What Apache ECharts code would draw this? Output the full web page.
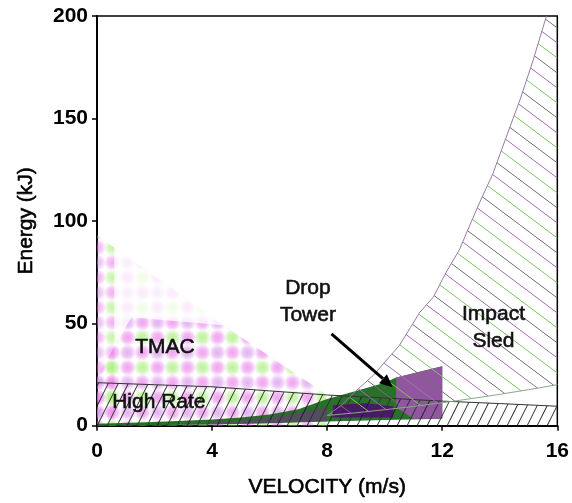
<!DOCTYPE html>
<html>
<head>
<meta charset="utf-8">
<script src="https://cdn.jsdelivr.net/npm/echarts@6/dist/echarts.min.js"></script>
<style>
  html, body { margin: 0; padding: 0; background: #fff; }
  #chart { width: 572px; height: 503px; }
</style>
</head>
<body>
<div id="chart"></div>
<script>
// axis ticks
var xTicks = [0, 4, 8, 12, 16];
var yTicks = [0, 50, 100, 150, 200];

// regions, [velocity m/s, energy kJ]
var tmacFaint = [[0, 0], [0, 93], [4.4, 49], [7.9, 16], [8, 12], [8, 0]];
var tmacEdge = [[0, 0], [0, 93], [0.6, 87], [0.6, 0]];
var tmacDense = [[0, 0], [0, 24], [1.2, 53], [4.4, 49], [7.9, 16], [8, 12], [8, 0]];
var highRate = [[0, 0], [0, 21], [2, 20], [4, 19], [6, 17], [8, 15], [10, 13.5], [12, 12], [14, 10.8], [16, 9.5], [16, 0]];
var dropTower = [[0, 1], [2, 1.8], [4, 3], [5, 4], [6, 5.5], [7, 8], [8, 13], [9, 17], [10, 21], [10.4, 23.5], [12, 29],
                 [12, 3.4], [10, 2.8], [8, 2], [6, 1.2], [4, 0.6], [0, 0]];
var dropWedge = [[3, 0.6], [5, 2.5], [6.5, 5], [8, 9], [8, 2.2], [5, 1]];
var dropSquare = [[10.4, 9], [10.4, 23.5], [12, 29], [12, 3.4], [11, 3.4]];
var dropCore = [[8.2, 4], [10.3, 4], [10.3, 9.5], [9.3, 11], [8.2, 10]];
var sledUpper = [[8, 5], [8.5, 10], [9, 17], [9.6, 24.5], [10, 31], [10.5, 39], [10.9, 48], [11.2, 55], [11.7, 63],
                 [12.1, 74], [12.6, 86], [12.84, 94], [13.3, 109], [13.76, 123], [14.2, 140], [14.7, 159],
                 [15.15, 178], [15.6, 199], [15.62, 200]];
var sledLower = [[16, 200], [16, 20], [15, 17.6], [14, 15.3], [13, 13.2], [12, 11.2], [11, 9.4], [10, 7.8], [9, 6.3], [8, 5]];

// labels and arrow
var labels = [[2.36, 38.4, 'TMAC'], [2.15, 11.4, 'High Rate'], [7.33, 60.3, 'Drop\nTower'], [13.78, 47.7, 'Impact\nSled']];
var arrow = [[8.15, 44.8], [10.28, 18.8]];

var FONT = '"Liberation Sans", Arial, Helvetica, sans-serif';

// fill patterns
function tmacPattern(alpha) {
	var c = document.createElement('canvas');
	c.width = 30; c.height = 30;
	var g = c.getContext('2d');
	var blobs = [[7.5, 7.5, '232,120,232'], [22.5, 22.5, '232,120,232'], [22.5, 7.5, '160,235,110'], [7.5, 22.5, '215,140,235']];
	blobs.forEach(function (b) {
		var rg = g.createRadialGradient(b[0], b[1], 0, b[0], b[1], 8.5);
		rg.addColorStop(0, 'rgba(' + b[2] + ',' + alpha + ')');
		rg.addColorStop(0.5, 'rgba(' + b[2] + ',' + (alpha * 0.7) + ')');
		rg.addColorStop(1, 'rgba(' + b[2] + ',0)');
		g.fillStyle = rg;
		g.fillRect(0, 0, 30, 30);
	});
	return { image: c, repeat: 'repeat' };
}

function slashPattern() {
	// "/" hatch for High Rate
	var c = document.createElement('canvas');
	c.width = 30; c.height = 20;
	var g = c.getContext('2d');
	var cols = ['#1a1a1a', '#2e2e2e', '#223a22'];
	g.lineWidth = 1;
	for (var k = -1; k <= 3; k++) {
		g.strokeStyle = cols[((k % 3) + 3) % 3];
		g.beginPath();
		g.moveTo(10 * k, 20);
		g.lineTo(10 * k + 10, 0);
		g.stroke();
	}
	return { image: c, repeat: 'repeat' };
}

function backslashPattern() {
	// "\" hatch for Impact Sled
	var c = document.createElement('canvas');
	c.width = 60; c.height = 45;
	var g = c.getContext('2d');
	var cols = ['#78c65e', '#a86cb4', '#707070'];
	g.lineWidth = 1;
	for (var k = -3; k <= 3; k++) {
		g.strokeStyle = cols[((k % 3) + 3) % 3];
		g.beginPath();
		g.moveTo(20 * k, 0);
		g.lineTo(20 * k + 60, 45);
		g.stroke();
	}
	return { image: c, repeat: 'repeat' };
}

function polySeries(points, fill, stroke, lw, z) {
	return {
		type: 'custom',
		z: z,
		silent: true,
		data: points,
		renderItem: function (params, api) {
			if (params.dataIndex !== 0) return;
			var pts = points.map(function (p) { return api.coord(p); });
			return {
				type: 'polygon',
				shape: { points: pts },
				style: { fill: fill, stroke: stroke || null, lineWidth: lw || 0 }
			};
		}
	};
}

function lineSeries(points, color, lw, z) {
	return {
		type: 'custom',
		z: z,
		silent: true,
		data: points,
		renderItem: function (params, api) {
			if (params.dataIndex !== 0) return;
			var pts = points.map(function (p) { return api.coord(p); });
			return {
				type: 'polyline',
				shape: { points: pts },
				style: { fill: null, stroke: color, lineWidth: lw }
			};
		}
	};
}

var sledPoly = sledUpper.concat(sledLower);
var highRateTop = highRate.slice(1, highRate.length - 1);

var series = [
	polySeries(tmacFaint, tmacPattern(0.16), null, 0, 1),
	polySeries(tmacEdge, tmacPattern(0.5), null, 0, 1),
	polySeries(tmacDense, tmacPattern(0.62), null, 0, 2),
	polySeries(dropTower, 'rgba(24,100,24,0.92)', null, 0, 3),
	polySeries(dropWedge, 'rgba(110,55,130,0.6)', null, 0, 4),
	polySeries(dropSquare, 'rgba(150,85,165,0.95)', null, 0, 4),
	polySeries(dropCore, 'rgba(80,15,115,0.92)', null, 0, 5),
	polySeries(highRate, slashPattern(), null, 0, 6),
	lineSeries(highRateTop, '#333', 1, 6),
	polySeries(sledPoly, backslashPattern(), null, 0, 7),
	lineSeries(sledUpper, '#9a7aa8', 1, 7),
	lineSeries(sledLower.slice(1), '#8aa88a', 1, 7),
	{
		type: 'custom',
		z: 9,
		silent: true,
		data: arrow,
		renderItem: function (params, api) {
			if (params.dataIndex !== 0) return;
			var a = api.coord(arrow[0]);
			var b = api.coord(arrow[1]);
			var ang = Math.atan2(b[1] - a[1], b[0] - a[0]);
			var len = 13, half = 6;
			var base = [b[0] - len * Math.cos(ang), b[1] - len * Math.sin(ang)];
			var nx = -Math.sin(ang), ny = Math.cos(ang);
			return {
				type: 'group',
				children: [
					{ type: 'line', shape: { x1: a[0], y1: a[1], x2: base[0], y2: base[1] }, style: { stroke: '#000', lineWidth: 3 } },
					{ type: 'polygon', shape: { points: [b, [base[0] + nx * half, base[1] + ny * half], [base[0] - nx * half, base[1] - ny * half]] }, style: { fill: '#000' } }
				]
			};
		}
	},
	{
		type: 'custom',
		z: 10,
		silent: true,
		data: labels,
		renderItem: function (params, api) {
			var p = api.coord([api.value(0), api.value(1)]);
			return {
				type: 'text',
				x: p[0],
				y: p[1],
				style: {
					text: labels[params.dataIndex][2],
					fill: '#111',
					stroke: '#111',
					lineWidth: 0.6,
					font: '21px ' + FONT,
					align: 'center',
					verticalAlign: 'middle',
					lineHeight: 27
				}
			};
		}
	}
];

var textStyle = { fontSize: 21, color: '#000', fontFamily: FONT, textBorderColor: '#000', textBorderWidth: 0.6 };

var myChart = echarts.init(document.getElementById('chart'));
var option = {
	animation: false,
	backgroundColor: '#fff',
	grid: { left: 97, right: 14, top: 16, bottom: 76, show: true, borderColor: '#000', borderWidth: 1.5 },
	xAxis: {
		type: 'value',
		min: xTicks[0],
		max: xTicks[xTicks.length - 1],
		interval: xTicks[1] - xTicks[0],
		name: 'VELOCITY (m/s)',
		nameLocation: 'middle',
		nameGap: 51,
		nameTextStyle: textStyle,
		axisLine: { lineStyle: { color: '#000', width: 2 } },
		axisTick: { inside: false, length: 5, lineStyle: { color: '#000', width: 1.5 } },
		axisLabel: Object.assign({ margin: 15, fontWeight: 'bold' }, textStyle, { textBorderWidth: 0 }),
		splitLine: { show: false }
	},
	yAxis: {
		type: 'value',
		min: yTicks[0],
		max: yTicks[yTicks.length - 1],
		interval: yTicks[1] - yTicks[0],
		name: 'Energy (kJ)',
		nameLocation: 'middle',
		nameGap: 60,
		nameTextStyle: textStyle,
		axisLine: { lineStyle: { color: '#000', width: 2 } },
		axisTick: { inside: false, length: 5, lineStyle: { color: '#000', width: 1.5 } },
		axisLabel: Object.assign({ margin: 9, fontWeight: 'bold' }, textStyle, { textBorderWidth: 0 }),
		splitLine: { show: false }
	},
	series: series
};
myChart.setOption(option);
</script>
</body>
</html>
